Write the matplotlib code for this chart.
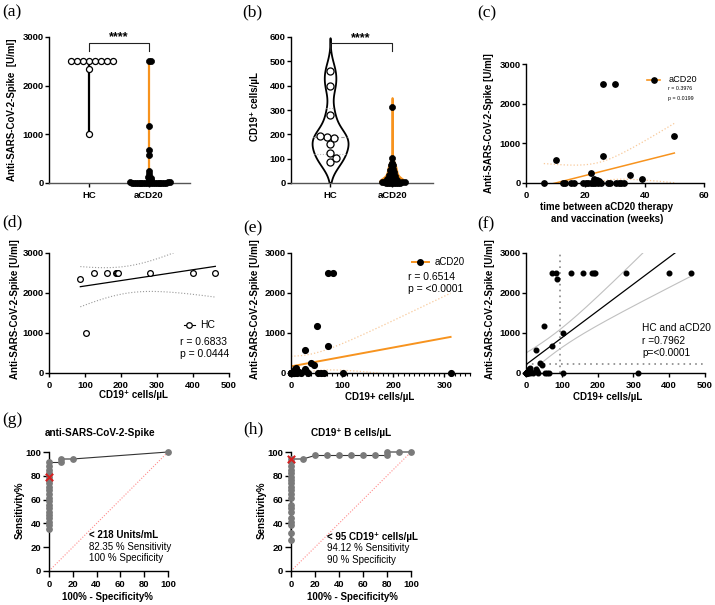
import numpy as np
import matplotlib
matplotlib.use('Agg')
import matplotlib.pyplot as plt
from matplotlib.ticker import MultipleLocator

plt.rcParams['font.family'] = ['Liberation Sans', 'DejaVu Sans']
plt.rcParams['font.weight'] = 'bold'
plt.rcParams['axes.linewidth'] = 1.0

# ---------------- data ----------------
groups = ['HC', 'aCD20']
hc_cd19 = [87, 103, 125, 160, 185, 190, 193, 280, 400, 462]
hc_spike = [2350, 1010, 2500, 2500, 2500, 2500, 2500, 2500, 2500, 2500]
acd20_cd19 = [312, 102, 83, 73, 72, 65, 58, 53, 50, 45, 40, 33, 30, 28, 28, 10, 10,
              8, 8, 5, 3, 2, 1, 0, 0, 0, 1, 2, 4, 6, 12, 15, 20, 0]
acd20_spike = [0, 10, 2500, 2500, 670, 0, 0, 0, 1180, 190, 250, 0, 50, 100, 580, 130, 60,
               100, 20, 0, 0, 0, 0, 0, 0, 5, 10, 0, 30, 0, 0, 20, 0, 0]
weeks_c = [6, 10, 12.5, 13.3, 15.3, 16.2, 19.2, 20.3, 21, 21.8, 22, 22.5, 23, 23.4, 24,
           24.2, 24.7, 25.2, 26, 26, 27.5, 28.3, 30, 30.5, 31.2, 32.1, 33, 35, 39, 50]
spike_c = [0, 580, 0, 0, 0, 0, 0, 0, 0, 0, 250, 0, 100, 0, 80, 0, 40, 0, 2500, 670,
           0, 0, 2500, 0, 0, 0, 0, 190, 100, 1180]

roc_g_fpr = [0, 0, 0, 0, 0, 0, 0, 0, 0, 0, 0, 0, 0, 0, 0, 0, 0, 0, 0, 0, 10, 10, 20, 100]
roc_g_sens = [35.29, 38.24, 41.18, 44.12, 47.06, 50.00, 52.94, 55.88, 58.82, 61.76,
              64.71, 67.65, 70.59, 73.53, 76.47, 79.41, 82.35, 85.29, 88.24, 91.18,
              91.18, 94.12, 94.12, 100]
roc_g_cut = (0, 79.41)
roc_h_fpr = [0, 0, 0, 0, 0, 0, 0, 0, 0, 0, 0, 0, 0, 0, 0, 0, 0, 0, 0, 0,
             10, 20, 30, 40, 50, 60, 70, 80, 80, 90, 100]
roc_h_sens = [26.47, 32.35, 38.24, 41.18, 44.12, 50.00, 52.94, 55.88, 61.76, 64.71,
              67.65, 70.59, 73.53, 76.47, 79.41, 82.35, 85.29, 88.24, 91.18, 94.12,
              94.12, 97.06, 97.06, 97.06, 97.06, 97.06, 97.06, 97.06, 100, 100, 100]
roc_h_cut = (0, 94.12)
cut_spike = 218
cut_cd19 = 95

stat_c = ['r = 0.3976', 'p = 0.0199']
stat_d = ['r = 0.6833', 'p = 0.0444']
stat_e = ['r = 0.6514', 'p = <0.0001']
stat_f = ['HC and aCD20', 'r =0.7962', 'p=<0.0001']
roc_g_text = ['< 218 Units/mL', '82.35 % Sensitivity', '100 % Specificity']
roc_h_text = ['< 95 CD19\u207a cells/\u00b5L', '94.12 % Sensitivity', '90 % Specificity']

ORANGE = '#F7931E'
LORANGE = '#F8C99A'

# ---------------- helpers ----------------
W, H = 715, 605
fig = plt.figure(figsize=(W / 100, H / 100), dpi=100)


def add(l, r, t, b):
    return fig.add_axes([l / W, 1 - b / H, (r - l) / W, (b - t) / H])


def ftext(x, y, s, **kw):
    fig.text(x / W, 1 - y / H, s, **kw)


def style(ax, xpad=2.5, ypad=1.0, length=3):
    for s in ['top', 'right']:
        ax.spines[s].set_visible(False)
    ax.tick_params(direction='out', length=length, width=1.0, labelsize=6.8)
    ax.tick_params(axis='x', pad=xpad)
    ax.tick_params(axis='y', pad=ypad)


def swarm_x(ax, xc, vals, sep):
    vals = np.asarray(vals, float)
    disp = ax.transData.transform(np.column_stack([np.full(len(vals), xc), vals]))
    ys = disp[:, 1]
    x0 = disp[0, 0]
    placed = []
    offs = np.zeros(len(vals))
    for i in np.argsort(vals, kind='stable'):
        y = ys[i]
        cands = [0.0]
        for px, py in placed:
            dy = abs(py - y)
            if dy < sep:
                dx = np.sqrt(sep ** 2 - dy ** 2)
                cands += [px + dx, px - dx]
        cands.sort(key=lambda c: (abs(c), -c))
        chosen = cands[-1]
        for c in cands:
            if all((c - px) ** 2 + (y - py) ** 2 >= sep ** 2 - 1e-6 for px, py in placed):
                chosen = c
                break
        placed.append((chosen, y))
        offs[i] = chosen
    inv = ax.transData.inverted()
    return inv.transform(np.column_stack([x0 + offs, ys]))[:, 0]


def kde(vals, grid, bw):
    v = np.asarray(vals, float)[:, None]
    return np.exp(-0.5 * ((grid[None, :] - v) / bw) ** 2).sum(0)


def t975(df):
    z = 1.959964
    g1 = (z ** 3 + z) / 4
    g2 = (5 * z ** 5 + 16 * z ** 3 + 3 * z) / 96
    g3 = (3 * z ** 7 + 19 * z ** 5 + 17 * z ** 3 - 15 * z) / 384
    return z + g1 / df + g2 / df ** 2 + g3 / df ** 3


def fit_band(x, y, npts=200):
    x = np.asarray(x, float)
    y = np.asarray(y, float)
    n = len(x)
    b, a = np.polyfit(x, y, 1)
    s = np.sqrt(np.sum((y - (a + b * x)) ** 2) / (n - 2))
    sxx = np.sum((x - x.mean()) ** 2)
    xg = np.linspace(x.min(), x.max(), npts)
    se = s * np.sqrt(1 / n + (xg - x.mean()) ** 2 / sxx)
    yl = a + b * xg
    t = t975(n - 2)
    return xg, yl, yl - t * se, yl + t * se


def panel_label(x, y, s):
    ftext(x, y, s, family=['Liberation Serif', 'DejaVu Serif'], fontsize=12.5,
          fontweight='normal', ha='left', va='center')


def ylab(x, y, s, fs=7):
    ftext(x, y, s, rotation=90, ha='center', va='center', fontsize=fs, fontweight='bold')


def xlab(x, y, s, fs=7):
    ftext(x, y, s, ha='center', va='center', fontsize=fs, fontweight='bold')


# ---------------- (a) ----------------
axA = add(49, 190, 37, 183)
axA.set_xlim(-0.667, 1.683)
axA.set_ylim(0, 3000)
axA.set_yticks([0, 1000, 2000, 3000])
axA.set_xticks([0, 1])
axA.set_xticklabels(groups)
style(axA)
axA.spines['bottom'].set_color('#555555')
axA.plot([0, 0], [min(hc_spike), max(hc_spike)], color='black', lw=1.6, zorder=2)
axA.plot([1, 1], [min(acd20_spike), max(acd20_spike)], color=ORANGE, lw=1.6, zorder=2)
xa = swarm_x(axA, 0, hc_spike, 6.0)
axA.scatter(xa, hc_spike, s=19, facecolor='white', edgecolor='black', lw=0.9, zorder=3, clip_on=False)
xa = swarm_x(axA, 1, acd20_spike, 1.9)
axA.scatter(xa, acd20_spike, s=19, facecolor='black', edgecolor='black', lw=0.5, zorder=3, clip_on=False)
axA.plot([0, 0, 1, 1], [2712, 2877, 2877, 2712], color='#222222', lw=0.8, clip_on=False)
axA.text(0.5, 2925, '****', ha='center', va='baseline', fontsize=9, fontweight='bold', clip_on=False)
ylab(12, 110, 'Anti-SARS-CoV-2-Spike  [U/ml]')
panel_label(2, 12, '(a)')

# ---------------- (b) ----------------
axB = add(291, 433, 37, 183)
axB.set_xlim(-0.63, 1.66)
axB.set_ylim(0, 600)
axB.set_yticks(range(0, 601, 100))
axB.set_xticks([0, 1])
axB.set_xticklabels(groups)
style(axB)
axB.spines['bottom'].set_color('#555555')
bw = 45
g = np.linspace(max(0, min(hc_cd19) - 3 * bw), max(hc_cd19) + 3 * bw, 400)
d = kde(hc_cd19, g, bw)
half = d / d.max() * 0.29
axB.fill_betweenx(g, -half, half, facecolor='white', edgecolor='black', lw=1.3, zorder=1)
q1, med, q3 = np.percentile(hc_cd19, [25, 50, 75], method='weibull')
for q, ls, c in [(med, (0, (3, 2)), '#999999'), (q1, (0, (1, 1.5)), '#bbbbbb'), (q3, (0, (1, 1.5)), '#bbbbbb')]:
    hw = np.interp(q, g, half)
    axB.plot([-hw, hw], [q, q], color=c, lw=0.8, ls=ls, zorder=1.5)
bw2 = 13
g2 = np.linspace(0, max(acd20_cd19) + 3 * bw2, 400)
d2 = kde(acd20_cd19, g2, bw2)
half2 = d2 / d2.max() * 0.2
axB.fill_betweenx(g2, 1 - half2, 1 + half2, facecolor=ORANGE, edgecolor=ORANGE, lw=1.4, zorder=1)
xb = swarm_x(axB, 0, hc_cd19, 7.4)
axB.scatter(xb, hc_cd19, s=26, facecolor='white', edgecolor='black', lw=0.9, zorder=3, clip_on=False)
xb = swarm_x(axB, 1, acd20_cd19, 2.1)
axB.scatter(xb, acd20_cd19, s=19, facecolor='black', edgecolor='black', lw=0.5, zorder=3, clip_on=False)
axB.plot([0, 0, 1, 1], [541, 574, 574, 541], color='#222222', lw=0.8, clip_on=False)
axB.text(0.5, 583, '****', ha='center', va='baseline', fontsize=9, fontweight='bold', clip_on=False)
ylab(255, 107, 'CD19\u207a cells/\u00b5L')
panel_label(242, 12, '(b)')

# ---------------- (c) ----------------
axC = add(526, 704, 64, 183)
axC.set_xlim(0, 60)
axC.set_ylim(0, 3000)
axC.set_xticks([0, 20, 40, 60])
axC.set_yticks([0, 1000, 2000, 3000])
style(axC)
xg, yl, lo, hi = fit_band(weeks_c, spike_c)
axC.plot(xg, yl, color=ORANGE, lw=1.1, zorder=2)
axC.plot(xg, lo, color=LORANGE, lw=0.9, ls=':', zorder=2)
axC.plot(xg, hi, color=LORANGE, lw=0.9, ls=':', zorder=2)
axC.scatter(weeks_c, spike_c, s=15, color='black', zorder=3, clip_on=False)
axC.plot([0.68, 0.753], [0.866, 0.866], transform=axC.transAxes, color=ORANGE, lw=1.2)
axC.plot([0.72], [0.866], transform=axC.transAxes, marker='o', ms=3.8, color='black')
axC.text(0.80, 0.866, 'aCD20', transform=axC.transAxes, fontsize=6.6, fontweight='normal', va='center')
axC.text(0.80, 0.79, stat_c[0], transform=axC.transAxes, fontsize=3.8, fontweight='normal', va='center')
axC.text(0.80, 0.71, stat_c[1], transform=axC.transAxes, fontsize=3.8, fontweight='normal', va='center')
ylab(489, 123, 'Anti-SARS-CoV-2-Spike [U/ml]')
xlab(607, 213, 'time between aCD20 therapy\nand vaccination (weeks)')
panel_label(477, 13, '(c)')

# ---------------- (d) ----------------
axD = add(49, 229, 253, 373)
axD.set_xlim(0, 500)
axD.set_ylim(0, 3000)
axD.set_xticks(range(0, 501, 100))
axD.set_yticks([0, 1000, 2000, 3000])
style(axD)
xg, yl, lo, hi = fit_band(hc_cd19, hc_spike)
axD.plot(xg, yl, color='black', lw=0.9, zorder=2)
axD.plot(xg, lo, color='#999999', lw=0.8, ls=':', zorder=2)
axD.plot(xg, hi, color='#999999', lw=0.8, ls=':', zorder=2)
axD.scatter(hc_cd19, hc_spike, s=17, facecolor='white', edgecolor='black', lw=0.9, zorder=3, clip_on=False)
axD.plot([0.75, 0.81], [0.40, 0.40], transform=axD.transAxes, color='black', lw=0.8)
axD.plot([0.78], [0.40], transform=axD.transAxes, marker='o', ms=4, mfc='white', mec='black', mew=0.9)
axD.text(0.84, 0.40, 'HC', transform=axD.transAxes, fontsize=7.5, fontweight='normal', va='center')
axD.text(0.728, 0.26, stat_d[0], transform=axD.transAxes, fontsize=7.5, fontweight='normal', va='center')
axD.text(0.728, 0.16, stat_d[1], transform=axD.transAxes, fontsize=7.5, fontweight='normal', va='center')
ylab(15, 309, 'Anti-SARS-CoV-2-Spike [U/ml]')
xlab(133, 395, 'CD19\u207a cells/\u00b5L')
panel_label(2, 222, '(d)')

# ---------------- (e) ----------------
axE = add(291, 470, 253, 373)
axE.set_xlim(0, 350)
axE.set_ylim(0, 3000)
axE.set_xticks([0, 100, 200, 300])
axE.xaxis.set_minor_locator(MultipleLocator(10))
axE.set_yticks([0, 1000, 2000, 3000])
style(axE)
axE.tick_params(axis='x', which='minor', length=2, width=0.8)
xg, yl, lo, hi = fit_band(acd20_cd19, acd20_spike)
axE.plot(xg, yl, color=ORANGE, lw=1.4, zorder=2)
axE.plot(xg, lo, color=LORANGE, lw=0.9, ls=':', zorder=2)
axE.plot(xg, hi, color=LORANGE, lw=0.9, ls=':', zorder=2)
axE.scatter(acd20_cd19, acd20_spike, s=17, color='black', zorder=3, clip_on=False)
axE.plot([0.676, 0.771], [0.925, 0.925], transform=axE.transAxes, color=ORANGE, lw=1.4)
axE.plot([0.72], [0.925], transform=axE.transAxes, marker='o', ms=4, color='black')
axE.text(0.80, 0.925, 'aCD20', transform=axE.transAxes, fontsize=6.9, fontweight='normal', va='center')
axE.text(0.654, 0.80, stat_e[0], transform=axE.transAxes, fontsize=7.5, fontweight='normal', va='center')
axE.text(0.654, 0.70, stat_e[1], transform=axE.transAxes, fontsize=7.5, fontweight='normal', va='center')
ylab(255, 309, 'Anti-SARS-CoV-2-Spike [U/ml]')
xlab(380, 397, 'CD19+ cells/\u00b5L')
panel_label(243, 228, '(e)')

# ---------------- (f) ----------------
axF = add(526, 705, 253, 373)
axF.set_xlim(0, 500)
axF.set_ylim(0, 3000)
axF.set_xticks(range(0, 501, 100))
axF.set_yticks([0, 1000, 2000, 3000])
style(axF)
cd19_all = hc_cd19 + acd20_cd19
spike_all = hc_spike + acd20_spike
axF.axvline(cut_cd19, color='#888888', lw=1.2, ls=(0, (1, 2.5)), zorder=1)
axF.axhline(cut_spike, color='#888888', lw=1.2, ls=(0, (1, 2.5)), zorder=1)
xg, yl, lo, hi = fit_band(cd19_all, spike_all)
axF.plot(xg, yl, color='black', lw=0.9, zorder=2)
axF.plot(xg, lo, color='#c0c0c0', lw=0.8, zorder=2)
axF.plot(xg, hi, color='#c0c0c0', lw=0.8, zorder=2)
axF.scatter(cd19_all, spike_all, s=11, color='black', zorder=3, clip_on=False)
for i, yy in enumerate([0.375, 0.267, 0.167]):
    axF.text(0.648, yy, stat_f[i], transform=axF.transAxes, fontsize=7.3, fontweight='normal', va='center')
ylab(490, 309, 'Anti-SARS-CoV-2-Spike [U/ml]')
xlab(608, 397, 'CD19+ cells/\u00b5L')
panel_label(477, 224, '(f)')


# ---------------- (g), (h) ----------------
def roc_panel(ax, fpr, sens, cut, texts, tx, ty):
    ax.set_xlim(0, 100)
    ax.set_ylim(0, 100)
    ax.set_xticks(range(0, 101, 20))
    ax.set_yticks(range(0, 101, 20))
    style(ax, length=4, ypad=1.5)
    ax.plot([0, 100], [0, 100], color='#ff8a8a', lw=0.8, ls=(0, (1, 1.5)), zorder=1)
    ax.plot(fpr, sens, color='#333333', lw=0.8, zorder=2, clip_on=False)
    ax.scatter(fpr, sens, s=15, color='#7a7a7a', zorder=3, clip_on=False)
    ax.scatter([cut[0]], [cut[1]], marker='x', s=28, color='#d62020', lw=1.5, zorder=4, clip_on=False)
    ax.text(tx, ty[0], texts[0], fontsize=7, fontweight='bold', va='center')
    ax.text(tx, ty[1], texts[1], fontsize=7, fontweight='normal', va='center')
    ax.text(tx, ty[2], texts[2], fontsize=7, fontweight='normal', va='center')


axG = add(49, 168, 452, 571)
roc_panel(axG, roc_g_fpr, roc_g_sens, roc_g_cut, roc_g_text, 33.6, [30.3, 20.2, 10.9])
ftext(100, 433, 'anti-SARS-CoV-2-Spike', ha='center', va='center', fontsize=7.2, fontweight='bold')
ylab(20, 510, 'Sensitivity%')
xlab(107, 597, '100% - Specificity%')
panel_label(2, 420, '(g)')

axH = add(291, 411, 452, 571)
roc_panel(axH, roc_h_fpr, roc_h_sens, roc_h_cut, roc_h_text, 30, [28.6, 19.3, 9.2])
ftext(351, 433, 'CD19\u207a B cells/\u00b5L', ha='center', va='center', fontsize=7.2, fontweight='bold')
ylab(262, 510, 'Sensitivity%')
xlab(352, 597, '100% - Specificity%')
panel_label(243, 429, '(h)')

fig.savefig('out.png', dpi=100)
